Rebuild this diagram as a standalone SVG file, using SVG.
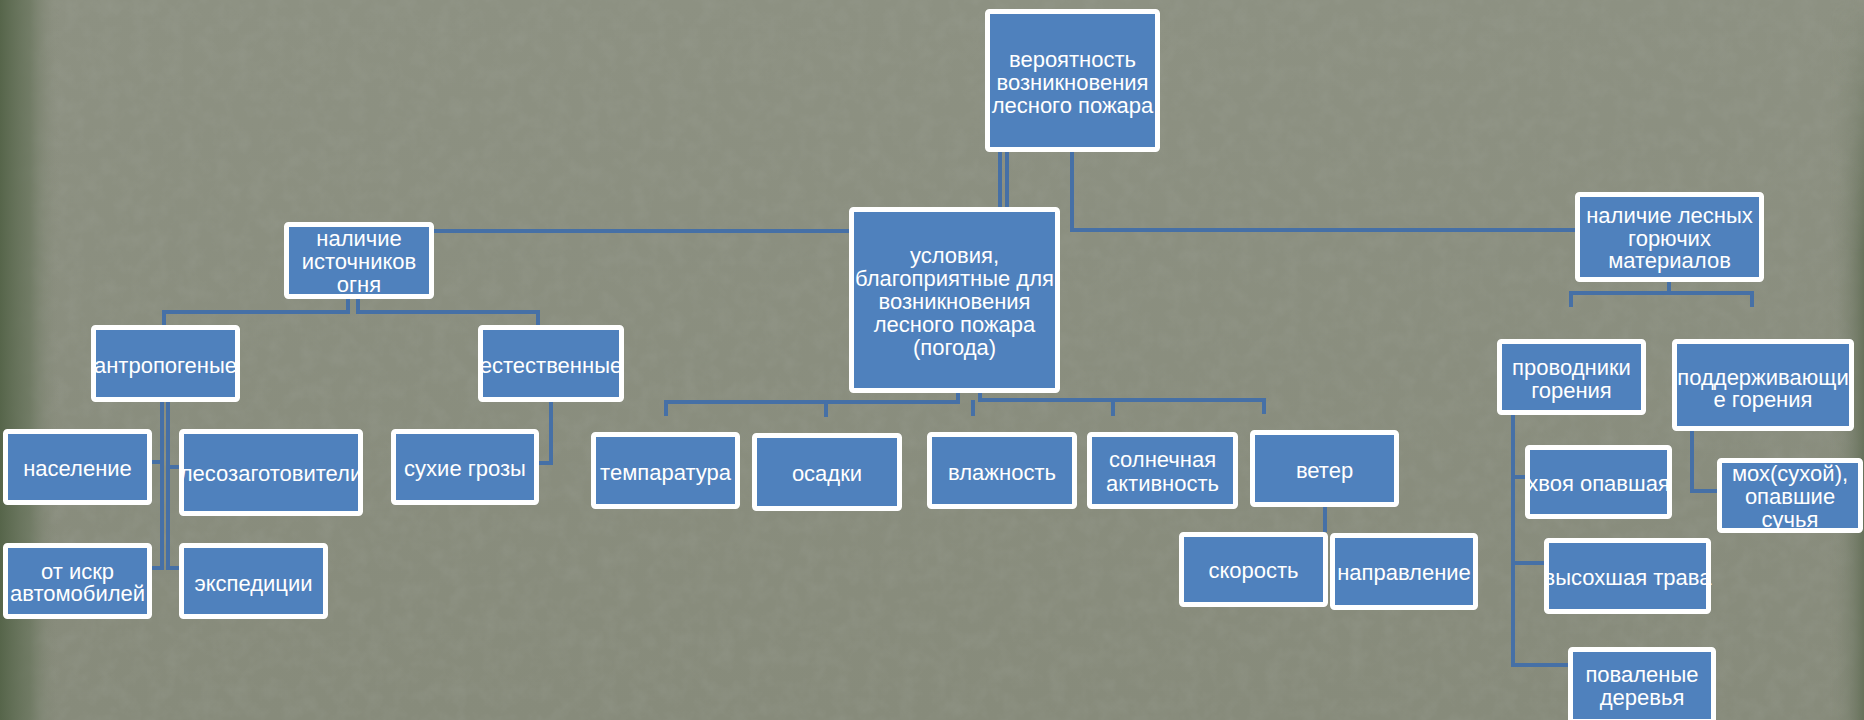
<svg xmlns="http://www.w3.org/2000/svg" width="1864" height="720" viewBox="0 0 1864 720">
<defs>
<style>
.box rect{fill:#4F81BD;stroke:#FFFFFF;stroke-width:5;}
.box text{fill:#FFFFFF;font-family:"Liberation Sans",Arial,sans-serif;font-size:22px;text-anchor:middle;}
.con{fill:none;stroke:#4670A6;stroke-width:4;}
</style>
<linearGradient id="leftEdge" x1="0" y1="0" x2="1" y2="0">
<stop offset="0" stop-color="#56654A" stop-opacity="1"/>
<stop offset="0.5" stop-color="#66735A" stop-opacity="0.7"/>
<stop offset="1" stop-color="#8A8E7E" stop-opacity="0"/>
</linearGradient>
<linearGradient id="rightEdge" x1="1" y1="0" x2="0" y2="0">
<stop offset="0" stop-color="#5E6A52" stop-opacity="0.8"/>
<stop offset="1" stop-color="#8A8E7E" stop-opacity="0"/>
</linearGradient>
<linearGradient id="rightFade" x1="0" y1="0" x2="0" y2="1">
<stop offset="0" stop-color="#FFFFFF" stop-opacity="0"/>
<stop offset="0.35" stop-color="#FFFFFF" stop-opacity="1"/>
<stop offset="1" stop-color="#FFFFFF" stop-opacity="1"/>
</linearGradient>
<mask id="rightMask"><rect x="1830" y="0" width="34" height="720" fill="url(#rightFade)"/></mask>
<linearGradient id="bgGrad" x1="0" y1="0" x2="0" y2="1">
<stop offset="0" stop-color="#8D9182"/>
<stop offset="1" stop-color="#878B7B"/>
</linearGradient>
<filter id="noise" x="0" y="0" width="100%" height="100%">
<feTurbulence type="fractalNoise" baseFrequency="0.06" numOctaves="3" seed="4" result="t"/>
<feColorMatrix type="matrix" values="0 0 0 0 0.35  0 0 0 0 0.37  0 0 0 0 0.32  0 0 0 -1.2 0.75" />
</filter>
</defs>
<rect x="0" y="0" width="1864" height="720" fill="url(#bgGrad)"/>
<rect x="0" y="0" width="1864" height="720" filter="url(#noise)" opacity="0.35"/>
<rect x="0" y="0" width="60" height="720" fill="url(#leftEdge)"/>
<rect x="1830" y="0" width="34" height="720" fill="url(#rightEdge)" mask="url(#rightMask)"/>

<g id="connectors">
<path class="con" d="M1000 152V207M1007 152V207"/>
<path class="con" d="M1072 152V230H1575"/>
<path class="con" d="M434 231H1000"/>
<path class="con" d="M348 299V312H164V325M358 299V312H538V325"/>
<path class="con" d="M162 402V568H152M168 402V568H179M152 462H162M168 467H179"/>
<path class="con" d="M551 402V463H539"/>
<path class="con" d="M958 393V402H666V416M826 402V417M980 393V400H1264V414M973 400V416M1113 400V416"/>
<path class="con" d="M1325 507V532"/>
<path class="con" d="M1669 282V293H1571V307M1669 293H1752V307"/>
<path class="con" d="M1513 415V665H1568M1513 477H1525M1513 563H1544"/>
<path class="con" d="M1692 431V491H1717"/>
</g>

<g id="n-probability" class="box"><rect x="987.5" y="11.5" width="170" height="138" rx="2"/>
<text x="1072.5" y="67">вероятность</text><text x="1072.5" y="90">возникновения</text><text x="1072.5" y="113">лесного пожара</text></g>

<g id="n-sources" class="box"><rect x="286.5" y="224.5" width="145" height="72" rx="2"/>
<text x="359" y="246">наличие</text><text x="359" y="269">источников</text><text x="359" y="292">огня</text></g>

<g id="n-conditions" class="box"><rect x="851.5" y="209.5" width="206" height="181" rx="2"/>
<text x="954.5" y="263">условия,</text><text x="954.5" y="286">благоприятные для</text><text x="954.5" y="309">возникновения</text><text x="954.5" y="332">лесного пожара</text><text x="954.5" y="355">(погода)</text></g>

<g id="n-materials" class="box"><rect x="1577.5" y="194.5" width="184" height="85" rx="2"/>
<text x="1669.5" y="223">наличие лесных</text><text x="1669.5" y="246">горючих</text><text x="1669.5" y="268">материалов</text></g>

<g id="n-anthropogenic" class="box"><rect x="93.5" y="327.5" width="144" height="72" rx="2"/>
<text x="165.5" y="373">антропогеные</text></g>

<g id="n-natural" class="box"><rect x="480.5" y="327.5" width="141" height="72" rx="2"/>
<text x="551" y="373">естественные</text></g>

<g id="n-population" class="box"><rect x="5.5" y="431.5" width="144" height="71" rx="2"/>
<text x="77.5" y="476">население</text></g>

<g id="n-loggers" class="box"><rect x="181.5" y="431.5" width="179" height="82" rx="2"/>
<text x="271" y="481">лесозаготовители</text></g>

<g id="n-sparks" class="box"><rect x="5.5" y="545.5" width="144" height="71" rx="2"/>
<text x="77.5" y="579">от искр</text><text x="77.5" y="601">автомобилей</text></g>

<g id="n-expeditions" class="box"><rect x="181.5" y="545.5" width="144" height="71" rx="2"/>
<text x="253.5" y="591">экспедиции</text></g>

<g id="n-dry-storms" class="box"><rect x="393.5" y="431.5" width="143" height="71" rx="2"/>
<text x="465" y="476">сухие грозы</text></g>

<g id="n-temperature" class="box"><rect x="593.5" y="434.5" width="144" height="72" rx="2"/>
<text x="665.5" y="480">темпаратура</text></g>

<g id="n-precipitation" class="box"><rect x="754.5" y="435.5" width="145" height="73" rx="2"/>
<text x="827" y="481">осадки</text></g>

<g id="n-humidity" class="box"><rect x="929.5" y="434.5" width="145" height="72" rx="2"/>
<text x="1002" y="480">влажность</text></g>

<g id="n-solar" class="box"><rect x="1089.5" y="434.5" width="146" height="72" rx="2"/>
<text x="1162.5" y="467">солнечная</text><text x="1162.5" y="491">активность</text></g>

<g id="n-wind" class="box"><rect x="1252.5" y="432.5" width="144" height="72" rx="2"/>
<text x="1324.5" y="478">ветер</text></g>

<g id="n-speed" class="box"><rect x="1181.5" y="534.5" width="144" height="70" rx="2"/>
<text x="1253.5" y="578">скорость</text></g>

<g id="n-direction" class="box"><rect x="1332.5" y="535.5" width="143" height="72" rx="2"/>
<text x="1404" y="580">направление</text></g>

<g id="n-conductors" class="box"><rect x="1499.5" y="341.5" width="144" height="71" rx="2"/>
<text x="1571.5" y="375">проводники</text><text x="1571.5" y="398">горения</text></g>

<g id="n-supporting" class="box"><rect x="1674.5" y="341.5" width="177" height="87" rx="2"/>
<text x="1763" y="385">поддерживающи</text><text x="1763" y="407">е горения</text></g>

<g id="n-needles" class="box"><rect x="1527.5" y="447.5" width="142" height="69" rx="2"/>
<text x="1598.5" y="491">хвоя опавшая</text></g>

<g id="n-moss" class="box"><rect x="1719.5" y="460.5" width="141" height="70" rx="2"/>
<text x="1790" y="481">мох(сухой),</text><text x="1790" y="504">опавшие</text><text x="1790" y="527">сучья</text></g>

<g id="n-grass" class="box"><rect x="1546.5" y="540.5" width="162" height="71" rx="2"/>
<text x="1627.5" y="585">высохшая трава</text></g>

<g id="n-fallen" class="box"><rect x="1570.5" y="649.5" width="143" height="72" rx="2"/>
<text x="1642" y="682">поваленые</text><text x="1642" y="705">деревья</text></g>
</svg>
